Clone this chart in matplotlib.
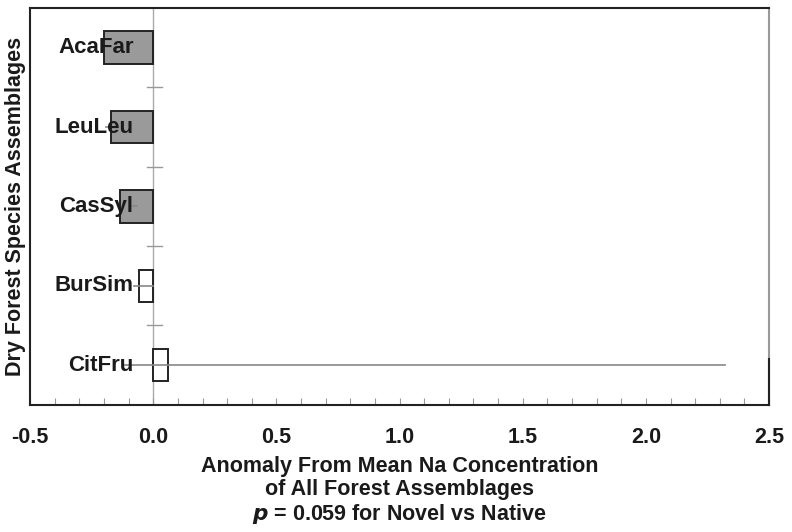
import numpy as np
import matplotlib.pyplot as plt
from matplotlib.ticker import MultipleLocator

plt.rcParams['font.family'] = ['Liberation Sans', 'DejaVu Sans']
plt.rcParams['font.weight'] = 'bold'

# anomaly from the mean Na concentration, one bar per assemblage
species = ['AcaFar', 'LeuLeu', 'CasSyl', 'BurSim', 'CitFru']
anomaly = [-0.20, -0.17, -0.135, -0.058, 0.06]
novel = [True, True, True, False, False]
# whisker extents (low, high); None where nothing shows
err_low = [None, -0.19, -0.10, -0.08, -0.12]
err_high = [None, -0.17, -0.065, 0.0, 2.32]


def main():
    fig = plt.figure(figsize=(7.92, 5.32), dpi=100)
    ax = fig.add_axes([0.038, 0.239, 0.933, 0.746])

    y = np.arange(len(species))
    colors = ['#9a9a9a' if n else 'white' for n in novel]
    ax.barh(y, anomaly, height=0.41, color=colors, edgecolor='#222222',
            linewidth=1.4, zorder=2)

    # zero reference line
    ax.axvline(0, color='#aaaaaa', linewidth=1, zorder=1)

    for yi, lo, hi in zip(y, err_low, err_high):
        if lo is None:
            continue
        ax.plot([lo, hi], [yi, yi], color='#888888', linewidth=1.2, zorder=3)

    # short separators between the categories
    for yb in y[:-1] + 0.5:
        ax.plot([-0.025, 0.035], [yb, yb], color='#999999', linewidth=1,
                zorder=1)

    for yi, name in zip(y, species):
        ax.text(-0.08, yi, name, ha='right', va='center', fontsize=16,
                fontweight='bold', color='#1a1a1a', zorder=4)

    ax.set_xlim(-0.5, 2.5)
    ax.set_ylim(4.5, -0.5)
    ax.xaxis.set_major_locator(MultipleLocator(0.5))
    ax.xaxis.set_minor_locator(MultipleLocator(0.1))
    ax.xaxis.set_major_formatter(lambda v, pos: f'{v:.1f}')
    ax.tick_params(axis='x', which='both', direction='in', length=5,
                   width=0.8, color='#999999', labelsize=15.5, pad=16,
                   labelcolor='#1a1a1a')
    ax.set_yticks([])
    for lbl in ax.get_xticklabels():
        lbl.set_fontweight('bold')

    for side in ['left', 'bottom', 'top']:
        ax.spines[side].set_color('#222222')
        ax.spines[side].set_linewidth(1.5)
    ax.spines['right'].set_color('#999999')
    ax.spines['right'].set_linewidth(1.5)
    ax.plot([1, 1], [0, 0.116], transform=ax.transAxes, color='#222222',
            linewidth=1.5, clip_on=False, zorder=5)

    ax.set_xlabel('Anomaly From Mean Na Concentration\n'
                  'of All Forest Assemblages\n'
                  r'$\bf{\it{p}}$ = 0.059 for Novel vs Native',
                  fontsize=15.5, fontweight='bold', labelpad=6,
                  linespacing=1.1, color='#1a1a1a')
    ax.set_ylabel('Dry Forest Species Assemblages', fontsize=15.5,
                  fontweight='bold', labelpad=3, color='#1a1a1a')

    fig.savefig('out.png', dpi=100)


if __name__ == '__main__':
    main()
